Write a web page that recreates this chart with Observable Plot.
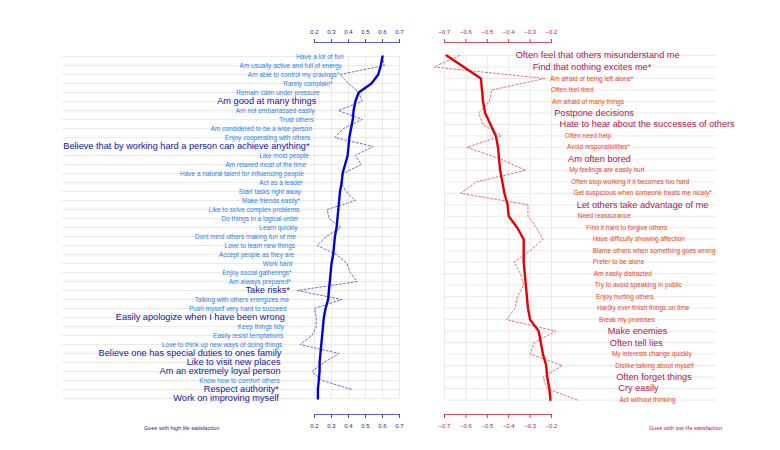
<!DOCTYPE html>
<html>
<head>
<meta charset="utf-8">
<script src="https://cdn.jsdelivr.net/npm/d3@7"></script>
<script src="https://cdn.jsdelivr.net/npm/@observablehq/plot@0.6"></script>
<style>
  body { margin: 0; background: #fff; }
  #wrap { position: relative; width: 780px; height: 450px; font-family: "Liberation Sans", Arial, sans-serif; }
  #wrap svg { position: absolute; left: 0; top: 0; }
  .note { position: absolute; top: 424px; font-size: 5.6px; white-space: nowrap; line-height: 8px; }
</style>
</head>
<body>
<div id="wrap">
  <div class="note" id="noteL" style="left:144px;color:#1a1aa6;">Goes with high life satisfaction</div>
  <div class="note" id="noteR" style="left:649px;color:#cc1133;">Goes with low life satisfaction</div>
</div>
<script>
// ---------- data ----------
const leftItems = [
  "Have a lot of fun",
  "Am usually active and full of energy",
  "Am able to control my cravings*",
  "Rarely complain*",
  "Remain calm under pressure",
  "Am good at many things",
  "Am not embarrassed easily",
  "Trust others",
  "Am considered to be a wise person",
  "Enjoy cooperating with others",
  "Believe that by working hard a person can achieve anything*",
  "Like most people",
  "Am relaxed most of the time",
  "Have a natural talent for influencing people",
  "Act as a leader",
  "Start tasks right away",
  "Make friends easily*",
  "Like to solve complex problems",
  "Do things in a logical order",
  "Learn quickly",
  "Dont mind others making fun of me",
  "Love to learn new things",
  "Accept people as they are",
  "Work hard",
  "Enjoy social gatherings*",
  "Am always prepared*",
  "Take risks*",
  "Talking with others energizes me",
  "Push myself very hard to succeed",
  "Easily apologize when I have been wrong",
  "Keep things tidy",
  "Easily resist temptations",
  "Love to think up new ways of doing things",
  "Believe one has special duties to ones family",
  "Like to visit new places",
  "Am an extremely loyal person",
  "Know how to comfort others",
  "Respect authority*",
  "Work on improving myself"
];
const leftSmooth = [0.60,0.59,0.575,0.535,0.46,0.44,0.43,0.425,0.415,0.405,0.40,0.395,0.38,0.365,0.36,0.35,0.345,0.34,0.335,0.33,0.32,0.315,0.31,0.30,0.295,0.29,0.285,0.28,0.265,0.255,0.25,0.245,0.24,0.235,0.23,0.23,0.225,0.22,0.22];
const leftRaw = [0.60,0.61,0.35,0.40,0.46,0.48,0.34,0.48,0.37,0.32,0.545,0.44,0.475,0.37,0.355,0.385,0.44,0.275,0.285,0.355,0.27,0.215,0.33,0.39,0.41,0.45,0.10,0.36,0.20,0.21,0.21,0.185,0.115,0.345,0.255,0.185,0.245,0.42,null];
const leftStrong = [
  "Am good at many things",
  "Believe that by working hard a person can achieve anything*",
  "Take risks*",
  "Easily apologize when I have been wrong",
  "Believe one has special duties to ones family",
  "Like to visit new places",
  "Am an extremely loyal person",
  "Respect authority*",
  "Work on improving myself"
];
const leftTicks = [0.2, 0.3, 0.4, 0.5, 0.6, 0.7];

const rightItems = [
  "Often feel that others misunderstand me",
  "Find that nothing excites me*",
  "Am afraid of being left alone*",
  "Often feel tired",
  "Am afraid of many things",
  "Postpone decisions",
  "Hate to hear about the successes of others",
  "Often need help",
  "Avoid responsibilities*",
  "Am often bored",
  "My feelings are easily hurt",
  "Often stop working if it becomes too hard",
  "Get suspicious when someone treats me nicely*",
  "Let others take advantage of me",
  "Need reassurance",
  "Find it hard to forgive others",
  "Have difficulty showing affection",
  "Blame others when something goes wrong",
  "Prefer to be alone",
  "Am easily distracted",
  "Try to avoid speaking in public",
  "Enjoy hurting others",
  "Hardly ever finish things on time",
  "Break my promises",
  "Make enemies",
  "Often tell lies",
  "My interests change quickly",
  "Dislike talking about myself",
  "Often forget things",
  "Cry easily",
  "Act without thinking"
];
const rightSmooth = [-0.69,-0.61,-0.53,-0.525,-0.52,-0.51,-0.485,-0.46,-0.45,-0.445,-0.44,-0.43,-0.42,-0.405,-0.40,-0.36,-0.33,-0.33,-0.33,-0.325,-0.32,-0.315,-0.31,-0.30,-0.26,-0.25,-0.24,-0.225,-0.22,-0.21,-0.205];
const rightRaw = [-0.63,-0.75,-0.23,-0.48,-0.49,-0.54,-0.52,-0.435,-0.595,-0.44,-0.32,-0.55,-0.625,-0.31,-0.31,-0.27,-0.24,-0.30,-0.375,-0.345,-0.33,-0.36,-0.37,-0.41,-0.18,-0.28,-0.30,-0.15,-0.24,-0.22,-0.08];
const rightStrong = [
  "Often feel that others misunderstand me",
  "Find that nothing excites me*",
  "Postpone decisions",
  "Hate to hear about the successes of others",
  "Am often bored",
  "Let others take advantage of me",
  "Make enemies",
  "Often tell lies",
  "Often forget things",
  "Cry easily"
];
const rightTicks = [-0.7, -0.6, -0.5, -0.4, -0.3, -0.2];

// ---------- build ----------
const fmt = d3.format(".1f");
const font = "'Liberation Sans', Arial, Helvetica, sans-serif";

const leftRows = leftItems.map((name, i) => ({i, name, smooth: leftSmooth[i], raw: leftRaw[i], strong: leftStrong.includes(name)}));
const rightRows = rightItems.map((name, i) => ({i, name, smooth: rightSmooth[i], raw: rightRaw[i], strong: rightStrong.includes(name)}));

const gridFromL = -1.28;  // horizontal grid reaches into label area
const gridToR = 0.57;

function panel({rows, ticks, domain, marginLeft, marginRight, yRange, gridX1, gridX2, axisColor, tickColor,
                rawColor, lineColor, smallColor, bigColor, anchor, dx}) {
  const n = rows.length - 1;
  return Plot.plot({
    width: 780, height: 450,
    marginLeft, marginRight, marginTop: 42, marginBottom: 36,
    x: {domain, label: null},
    y: {domain: [0, n], range: yRange, axis: null},
    style: {fontFamily: font, background: "transparent", overflow: "visible"},
    marks: [
      Plot.ruleY(rows, {y: "i", x1: gridX1, x2: gridX2, stroke: "#e4e4e4", strokeWidth: 0.8}),
      Plot.ruleX(ticks, {y1: 0, y2: n, stroke: "#e4e4e4", strokeWidth: 0.8}),
      Plot.frame({anchor: "top", stroke: axisColor, strokeWidth: 0.9}),
      Plot.frame({anchor: "bottom", stroke: axisColor, strokeWidth: 0.9}),
      Plot.axisX({anchor: "top", ticks, tickFormat: fmt, stroke: axisColor, fill: tickColor, fontSize: 6, tickSize: 4, tickPadding: 5}),
      Plot.axisX({anchor: "bottom", ticks, tickFormat: fmt, stroke: axisColor, fill: tickColor, fontSize: 6, tickSize: 4, tickPadding: 5}),
      Plot.line(rows.filter(d => d.raw != null), {x: "raw", y: "i", stroke: rawColor, strokeWidth: 0.9, strokeDasharray: "2,2"}),
      Plot.line(rows, {x: "smooth", y: "i", stroke: lineColor, strokeWidth: 2.4}),
      Plot.text(rows.filter(d => !d.strong), {x: "smooth", y: "i", text: "name", textAnchor: anchor, dx, fill: smallColor, fontSize: 6.5}),
      Plot.text(rows.filter(d => d.strong), {x: "smooth", y: "i", text: "name", textAnchor: anchor, dx, fill: bigColor, fontSize: 9.2})
    ]
  });
}

const leftChart = panel({
  rows: leftRows, ticks: leftTicks, domain: [0.2, 0.7],
  marginLeft: 314, marginRight: 381, yRange: [56, 398],
  gridX1: gridFromL, gridX2: 0.7,
  axisColor: "#4848c8", tickColor: "#22229a",
  rawColor: "#5c5cd0", lineColor: "#0000dd",
  smallColor: "#2b7de9", bigColor: "#1414a8",
  anchor: "end", dx: -39
});
const rightChart = panel({
  rows: rightRows, ticks: rightTicks, domain: [-0.7, -0.2],
  marginLeft: 444, marginRight: 229, yRange: [55, 399.5],
  gridX1: -0.7, gridX2: gridToR,
  axisColor: "#d83a4a", tickColor: "#c01a30",
  rawColor: "#ee5c5c", lineColor: "#e80000",
  smallColor: "#f0401a", bigColor: "#b81050",
  anchor: "start", dx: 69
});

const wrap = document.getElementById("wrap");
wrap.prepend(rightChart);
wrap.prepend(leftChart);
</script>
</body>
</html>
